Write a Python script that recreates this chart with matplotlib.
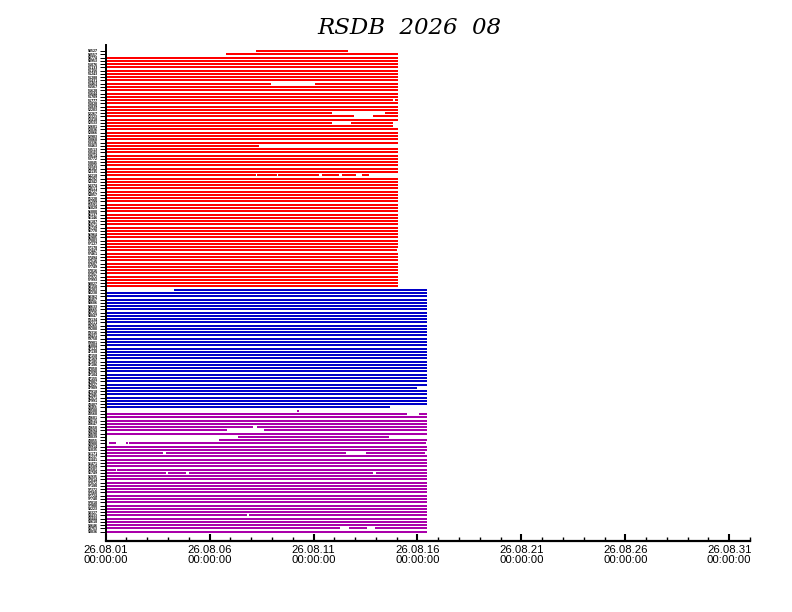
import matplotlib
matplotlib.use("Agg")
import matplotlib.pyplot as plt

# ---------------- data ----------------
TITLE = "RSDB  2026  08"

XTICK_POS = [0, 5, 10, 15, 20, 25, 30]
XTICK_LABELS = ["26.08.01\n00:00:00", "26.08.06\n00:00:00", "26.08.11\n00:00:00",
                "26.08.16\n00:00:00", "26.08.21\n00:00:00", "26.08.26\n00:00:00",
                "26.08.31\n00:00:00"]

RED_LABELS = ("50527 50557 50774 50953 51076 51133 51156 51243 51288 51431 "
              "51463 51567 51628 51644 51709 51777 51828 51839 52203 52267 "
              "52323 52418 52533 52681 52836 52866 52983 53068 53336 53463 "
              "53513 53543 53614 53772 53845 53915 54102 54135 54218 54292 "
              "54342 54374 54511 54727 54857 55228 55299 55591 56029 56080 "
              "56137 56146 56187 56571 56739 56778 56964 56985 57083 57127 "
              "57178 57447 57461 57494 57516 57687 57749 57816 57957 57972 "
              "57993 58027 58150").split()
BLUE_LABELS = ("58203 58238 58362 58457 58606 58633 58665 58725 58847 59134 "
               "59211 59265 59280 59316 59431 59758 59981 45004 47122 47138 "
               "47158 47169 47185 47186 47058 47090 47104 47155 47807 47827 "
               "47909 47918 47945 47971 47991 48407 48455").split()
MAG_LABELS = ("48500 48568 48601 48615 48647 48650 48694 48698 48839 48855 "
              "48900 48914 96035 96171 96237 96441 96471 96509 96581 96749 "
              "96935 97014 97072 97180 97372 97560 97724 97748 97810 97980 "
              "98223 98327 98433 98444 98618 98646 98753 98836").split()

# last day (days since 2026-08-01 00:00) reached by complete records of each group
RED_END = 14.05
BLUE_END = 15.45
MAG_END = 15.45

# rows (index within group) whose coverage differs from the full record
RED_SEGMENTS = {
    0: [(7.22, 11.68)],
    1: [(5.78, 14.05)],
    10: [(0, 7.95), (10.06, 14.05)],
    15: [(0, 13.80), (13.90, 14.05)],
    19: [(0, 10.88), (13.43, 14.05)],
    20: [(0, 11.94), (12.84, 14.05)],
    22: [(0, 10.88), (11.79, 13.80)],
    23: [(0, 13.81)],
    29: [(0, 7.37)],
    38: [(0, 7.23), (7.28, 8.24), (8.29, 10.26), (10.40, 11.22), (11.36, 12.03), (12.32, 12.66)],
    61: [(0, 14.00)],
}
BLUE_SEGMENTS = {
    0: [(3.28, 15.45)],
    30: [(0, 15.00)],
    36: [(0, 13.67)],
}
MAG_SEGMENTS = {
    0: [(9.20, 9.30)],
    1: [(0, 14.49), (15.06, 15.45)],
    5: [(0, 7.08), (7.28, 15.45)],
    6: [(0, 5.83), (7.61, 15.45)],
    8: [(6.36, 13.62)],
    9: [(5.45, 15.45)],
    10: [(0.16, 0.50), (0.98, 1.07), (1.12, 15.40)],
    13: [(0, 2.76), (2.90, 11.55), (12.52, 15.35)],
    18: [(0, 0.50), (0.54, 15.45)],
    19: [(0, 2.90), (3.00, 3.86), (4.00, 12.85), (13.00, 15.45)],
    32: [(0, 6.80), (6.90, 15.45)],
    36: [(0, 11.27), (11.70, 12.56), (12.95, 15.45)],
}

GROUPS = [
    (RED_LABELS, RED_END, RED_SEGMENTS, "#ff0000"),
    (BLUE_LABELS, BLUE_END, BLUE_SEGMENTS, "#0000c8"),
    (MAG_LABELS, MAG_END, MAG_SEGMENTS, "#aa00aa"),
]

# ---------------- figure ----------------
W, H = 792, 612
fig = plt.figure(figsize=(W / 100, H / 100), dpi=100)
fig.patch.set_facecolor("white")

ax_left, ax_right, ax_bottom, ax_top = 105.7, 750.0, 541.0, 45.0
ax = fig.add_axes([ax_left / W, (H - ax_bottom) / H,
                   (ax_right - ax_left) / W, (ax_bottom - ax_top) / H])

labels_all = []
row = 0
for labels, end, segs, color in GROUPS:
    for i, lab in enumerate(labels):
        pieces = segs.get(i, [(0, end)])
        for (s, e) in pieces:
            ax.hlines(row, s, e, colors=color, linewidth=1.35,
                      antialiaseds=False)
        labels_all.append(lab)
        row += 1

n_rows = len(labels_all)
row_top_px, row_step_px = 51.0, 3.27
ax.set_ylim((ax_bottom - row_top_px) / row_step_px, (ax_top - row_top_px) / row_step_px)
ax.set_xlim(0, 31)

ax.set_yticks(range(n_rows))
ax.set_yticklabels(labels_all, fontsize=2.1, fontweight="bold", family="DejaVu Sans")
ax.tick_params(axis="y", direction="out", length=4.5, width=0.7, pad=1.2, colors="black")

ax.set_xticks(XTICK_POS)
ax.set_xticklabels(XTICK_LABELS, fontsize=8.2, family="Liberation Sans", linespacing=0.95)
ax.set_xticks(range(0, 32), minor=True)
ax.tick_params(axis="x", which="major", direction="in", length=5.2, width=1.5, pad=3)
ax.tick_params(axis="x", which="minor", direction="in", length=2.6, width=1.0)

for side in ("top", "right"):
    ax.spines[side].set_visible(False)
ax.spines["bottom"].set_linewidth(1.6)
ax.spines["left"].set_linewidth(1.4)

fig.text(409.5 / W, 1 - 28.0 / H, TITLE, ha="center", va="center",
         fontsize=16.5, family="DejaVu Serif", style="italic")

fig.savefig("out.png", dpi=100, facecolor="white")
